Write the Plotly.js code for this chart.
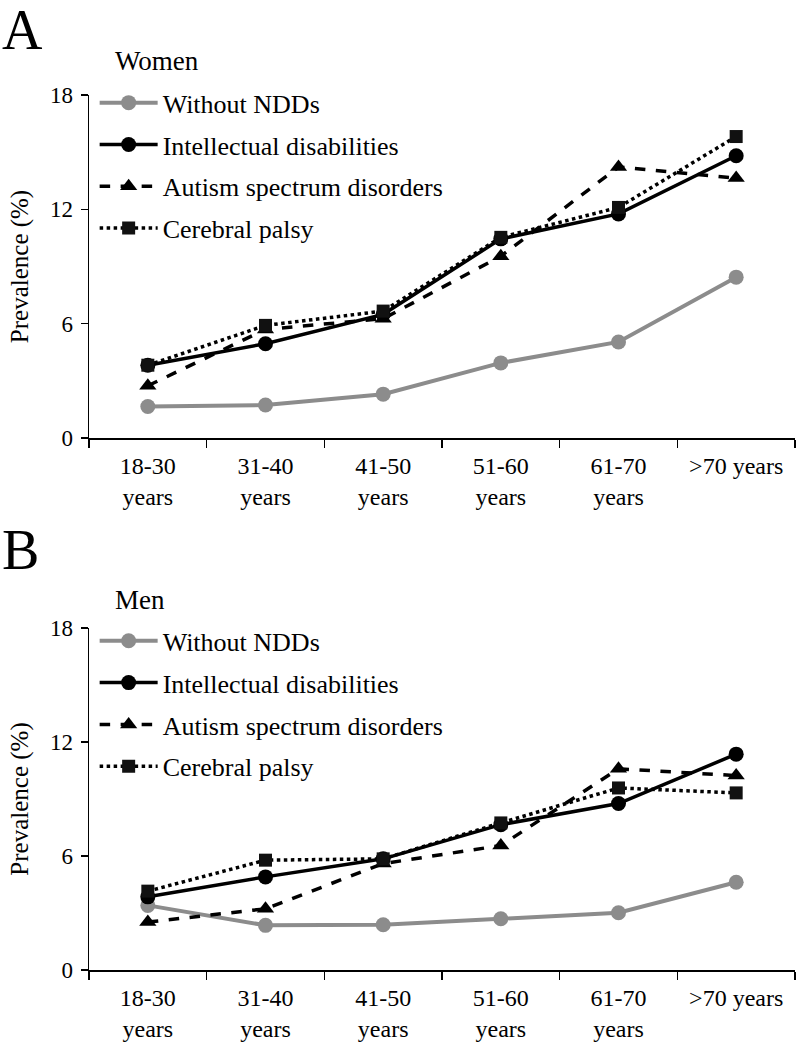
<!DOCTYPE html>
<html>
<head>
<meta charset="utf-8">
<script src="https://cdn.plot.ly/plotly-3.0.1.min.js"></script>
<style>body{margin:0;background:#fff;}#chart{width:800px;height:1050px;}</style>
</head>
<body>
<div id="chart"></div>
<script>
const categories = ["18-30<br>years", "31-40<br>years", "41-50<br>years", "51-60<br>years", "61-70<br>years", ">70 years"];
const seriesNames = ["Without NDDs", "Intellectual disabilities", "Autism spectrum disorders", "Cerebral palsy"];

// Panel A: Women
const womenWithout = [1.65, 1.73, 2.30, 3.94, 5.04, 8.44];
const womenID      = [3.82, 4.95, 6.49, 10.45, 11.76, 14.81];
const womenASD     = [2.74, 5.70, 6.26, 9.54, 14.22, 13.64];
const womenCP      = [3.82, 5.91, 6.66, 10.53, 12.10, 15.82];

// Panel B: Men
const menWithout = [3.40, 2.35, 2.38, 2.70, 3.01, 4.62];
const menID      = [3.85, 4.90, 5.85, 7.65, 8.76, 11.36];
const menASD     = [2.52, 3.22, 5.60, 6.55, 10.59, 10.23];
const menCP      = [4.15, 5.78, 5.85, 7.74, 9.58, 9.32];

const yTicks = [0, 6, 12, 18];

const FAM = "Liberation Serif";

const styles = [
  {line: {color: "#8c8c8c", width: 4, dash: "solid"}, marker: {symbol: "circle", size: 15, color: "#8c8c8c"}},
  {line: {color: "#000000", width: 3.5, dash: "solid"}, marker: {symbol: "circle", size: 15, color: "#000000"}},
  {line: {color: "#000000", width: 3.5, dash: "dash"}, marker: {symbol: "triangle-up", size: 15, color: "#000000"}},
  {line: {color: "#000000", width: 3.5, dash: "dot"}, marker: {symbol: "square", size: 13, color: "#111111"}}
];

function makeTraces(dataSets, xa, ya, legendId) {
  return dataSets.map((vals, i) => ({
    type: "scatter", mode: "lines+markers",
    x: categories, y: vals, name: seriesNames[i],
    xaxis: xa, yaxis: ya, legend: legendId,
    legendgroup: legendId + "g" + i,
    line: styles[i].line, marker: styles[i].marker
  }));
}

const traces = [
  ...makeTraces([womenWithout, womenID, womenASD, womenCP], "x", "y", "legend"),
  ...makeTraces([menWithout, menID, menASD, menCP], "x2", "y2", "legend2")
];

function xAxis(anchor) {
  return {
    anchor: anchor, domain: [0, 1], type: "category", categoryorder: "array", categoryarray: categories,
    range: [-0.5, 5.5], showline: true, linecolor: "#000", linewidth: 2,
    ticks: "outside", tickson: "boundaries", ticklen: 8, tickwidth: 1.5, tickcolor: "#000",
    ticklabelstandoff: 5,
    showgrid: false, zeroline: false, tickfont: {family: FAM, size: 24, color: "#000"}, fixedrange: true
  };
}
function yAxis(anchor, domain) {
  return {
    anchor: anchor, domain: domain, range: [0, 18], tickvals: yTicks, ticktext: yTicks.map(String),
    showline: true, linecolor: "#000", linewidth: 1.5, ticks: "outside", ticklen: 7, tickwidth: 1.5,
    tickcolor: "#000", showgrid: false, zeroline: false, tickfont: {family: FAM, size: 23, color: "#000"},
    ticklabelstandoff: 3,
    title: {text: "Prevalence (%)", font: {family: FAM, size: 25, color: "#000"}, standoff: 14}
  };
}

const legendCommon = {
  font: {family: FAM, size: 26, color: "#000"}, bgcolor: "rgba(0,0,0,0)", borderwidth: 0,
  xanchor: "left", yanchor: "top", traceorder: "grouped", tracegroupgap: 5, itemwidth: 58
};

const layout = {
  width: 800, height: 1050,
  margin: {l: 89, r: 5, t: 95, b: 80},
  paper_bgcolor: "#fff", plot_bgcolor: "#fff",
  font: {family: FAM, color: "#000", size: 22},
  xaxis: xAxis("y"),
  yaxis: yAxis("x", [0.608, 1]),
  xaxis2: xAxis("y2"),
  yaxis2: yAxis("x2", [0, 0.3909]),
  legend: Object.assign({x: 0.008, y: 1.018}, legendCommon),
  legend2: Object.assign({x: 0.008, y: 0.403}, legendCommon),
  annotations: [
    {text: "A", xref: "paper", yref: "paper", x: -0.126, y: 1.112, xanchor: "left", yanchor: "top", showarrow: false, font: {family: FAM, size: 56}},
    {text: "Women", xref: "paper", yref: "paper", x: 0.034, y: 1.058, xanchor: "left", yanchor: "top", showarrow: false, font: {family: FAM, size: 27}},
    {text: "B", xref: "paper", yref: "paper", x: -0.126, y: 0.518, xanchor: "left", yanchor: "top", showarrow: false, font: {family: FAM, size: 56}},
    {text: "Men", xref: "paper", yref: "paper", x: 0.034, y: 0.442, xanchor: "left", yanchor: "top", showarrow: false, font: {family: FAM, size: 27}}
  ],
  showlegend: true
};

Plotly.newPlot("chart", traces, layout, {displayModeBar: false, staticPlot: true});
</script>
</body>
</html>
